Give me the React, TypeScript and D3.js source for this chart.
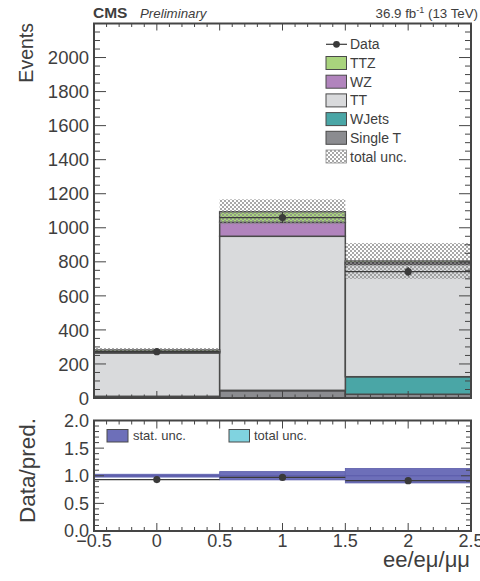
import React from "react";
import * as d3 from "d3";

// ---- data ----
const bins = [0, 1, 2];
const binLabels = ["ee", "eμ", "μμ"];
const singleT = [10, 43, 22];
const wjets = [0, 2, 103];
const tt = [255, 905, 660];
const wz = [7, 82, 10];
const ttz = [10, 62, 10];
const totalUnc = [12, 73, 105];
const dataVals = [272, 1060, 742];
const ratioVals = [0.93, 0.97, 0.91];
const ratioStat = [0.02, 0.075, 0.13];
const ratioTotal = [0.04, 0.075, 0.13];
const yTicksMain = [0, 200, 400, 600, 800, 1000, 1200, 1400, 1600, 1800, 2000];
const yTicksRatio = [0, 0.5, 1.0, 1.5, 2.0];
const xTickLabels = [-0.5, 0, 0.5, 1, 1.5, 2, 2.5];

const components = [
  { name: "Single T", values: singleT, color: "#8b8c90" },
  { name: "WJets", values: wjets, color: "#4aa6a6" },
  { name: "TT", values: tt, color: "#d9dadc" },
  { name: "WZ", values: wz, color: "#b184bd" },
  { name: "TTZ", values: ttz, color: "#a9d47d" },
];
const legendOrder = ["TTZ", "WZ", "TT", "WJets", "Single T"];

const W = 480;
const H = 581;
const X0 = 94, X1 = 471;
const MT = 23.5, MB = 398;
const RT = 420.5, RB = 531;
const FONT = "'Liberation Sans', Arial, sans-serif";
const TXT = "#3e3e3e";
const FRAME = "#454545";

export default function App() {
  const x = d3.scaleLinear().domain([-0.5, 2.5]).range([X0, X1]);
  const y = d3.scaleLinear().domain([0, 2200]).range([MB, MT]);
  const yr = d3.scaleLinear().domain([0, 2]).range([RB, RT]);

  // stacked values
  const stackRows = bins.map((b) => {
    const row: any = { bin: b };
    components.forEach((c) => (row[c.name] = c.values[b]));
    return row;
  });
  const stack = d3.stack().keys(components.map((c) => c.name))(stackRows as any);
  const totals = bins.map((b) => components.reduce((s, c) => s + c.values[b], 0));

  const xMinor = d3.range(-0.5, 2.5001, 0.1);
  const xMajor = d3.range(-0.5, 2.5001, 0.5);
  const yMinorMain = d3.range(0, 2200.1, 50);
  const yMinorRatio = d3.range(0, 2.0001, 0.1);

  const ticksX = (top: number, bottom: number, majL: number, minL: number, key: string) => (
    <g key={key} stroke={FRAME} strokeWidth={1}>
      {xMinor.map((v, i) => {
        const isMaj = xMajor.some((m) => Math.abs(m - v) < 1e-6);
        const L = isMaj ? majL : minL;
        return (
          <g key={i}>
            <line x1={x(v)} x2={x(v)} y1={bottom} y2={bottom - L} />
            <line x1={x(v)} x2={x(v)} y1={top} y2={top + L} />
          </g>
        );
      })}
    </g>
  );

  const ticksY = (scale: any, vals: number[], majStep: number, majL: number, minL: number) => (
    <g stroke={FRAME} strokeWidth={1}>
      {vals.map((v, i) => {
        const r = v / majStep;
        const isMaj = Math.abs(r - Math.round(r)) < 1e-6;
        const L = isMaj ? majL : minL;
        const yy = scale(v);
        return (
          <g key={i}>
            <line x1={X0} x2={X0 + L} y1={yy} y2={yy} />
            <line x1={X1} x2={X1 - L} y1={yy} y2={yy} />
          </g>
        );
      })}
    </g>
  );

  const bw = x(0.5) - x(-0.5);

  return (
    <svg
      width={W}
      height={H}
      style={{ position: "absolute", left: 0, top: 0, background: "#fff" }}
      fontFamily={FONT}
    >
      <defs>
        <pattern id="hatch" width="4" height="4" patternUnits="userSpaceOnUse">
          <rect x="0" y="0" width="2" height="2" fill="#8a8a8a" fillOpacity="0.75" />
          <rect x="2" y="2" width="2" height="2" fill="#8a8a8a" fillOpacity="0.75" />
        </pattern>
        <clipPath id="mainClip">
          <rect x={X0} y={MT} width={X1 - X0} height={MB - MT} />
        </clipPath>
      </defs>

      {/* header */}
      <text x={93} y={17.5} fontSize={15.5} fontWeight="bold" fill={TXT}>CMS</text>
      <text x={140} y={17.5} fontSize={13.3} fontStyle="italic" fill={TXT}>Preliminary</text>
      <text x={478} y={18} fontSize={13.3} fill={TXT} textAnchor="end">
        36.9 fb<tspan dy={-5} fontSize={9}>-1</tspan><tspan dy={5}> (13 TeV)</tspan>
      </text>

      {/* main stack */}
      <g clipPath="url(#mainClip)">
        {stack.map((layer: any, li: number) =>
          layer.map((d: any, bi: number) => {
            const h = y(d[0]) - y(d[1]);
            if (h <= 0.01) return null;
            return (
              <rect
                key={`${li}-${bi}`}
                x={x(bins[bi] - 0.5)}
                y={y(d[1])}
                width={bw}
                height={h}
                fill={components[li].color}
                stroke="#4a4a4a"
                strokeWidth={1.5}
              />
            );
          })
        )}
        {/* uncertainty hatch */}
        {bins.map((b) => (
          <rect
            key={`u${b}`}
            x={x(b - 0.5)}
            y={y(totals[b] + totalUnc[b])}
            width={bw}
            height={y(totals[b] - totalUnc[b]) - y(totals[b] + totalUnc[b])}
            fill="url(#hatch)"
          />
        ))}
        {/* data */}
        {bins.map((b) => (
          <g key={`d${b}`} stroke="#3a3a3a">
            <line x1={x(b - 0.5)} x2={x(b + 0.5)} y1={y(dataVals[b])} y2={y(dataVals[b])} strokeWidth={1.2} />
            <line
              x1={x(b)}
              x2={x(b)}
              y1={y(dataVals[b] - Math.sqrt(dataVals[b]))}
              y2={y(dataVals[b] + Math.sqrt(dataVals[b]))}
              strokeWidth={1.2}
            />
            <circle cx={x(b)} cy={y(dataVals[b])} r={3.6} fill="#3a3a3a" stroke="none" />
          </g>
        ))}
      </g>

      {/* main frame & ticks */}
      {ticksY(y, yMinorMain, 200, 12, 6)}
      {ticksX(MT, MB, 7, 3.5, "mx")}
      <rect x={X0} y={MT} width={X1 - X0} height={MB - MT} fill="none" stroke={FRAME} strokeWidth={2} />
      {yTicksMain.map((v) => (
        <text key={v} x={89} y={y(v)} dy="0.36em" fontSize={18.5} fill={TXT} textAnchor="end">
          {v}
        </text>
      ))}
      <text
        transform={`translate(33,23) rotate(-90)`}
        fontSize={19.5}
        fill={TXT}
        textAnchor="end"
      >
        Events
      </text>

      {/* legend */}
      {(() => {
        const lx = 326, ly = 44.3, step = 18.7;
        const items: any[] = [];
        items.push(
          <g key="ld">
            <line x1={lx} x2={lx + 21} y1={ly} y2={ly} stroke="#3a3a3a" strokeWidth={1.2} />
            <circle cx={lx + 10.5} cy={ly} r={3.4} fill="#3a3a3a" />
            <text x={350} y={ly} dy="0.36em" fontSize={14} fill={TXT}>Data</text>
          </g>
        );
        legendOrder.forEach((name, i) => {
          const c = components.find((cc) => cc.name === name)!;
          const yy = ly + step * (i + 1);
          items.push(
            <g key={name}>
              <rect x={lx} y={yy - 6.5} width={20.5} height={13} fill={c.color} stroke="#4a4a4a" strokeWidth={1} />
              <text x={350} y={yy} dy="0.36em" fontSize={14} fill={TXT}>{name}</text>
            </g>
          );
        });
        const yy = ly + step * 6;
        items.push(
          <g key="unc">
            <rect x={lx} y={yy - 6.5} width={20.5} height={13} fill="url(#hatch)" stroke="#8a8a8a" strokeWidth={0.8} />
            <text x={350} y={yy} dy="0.36em" fontSize={14} fill={TXT}>total unc.</text>
          </g>
        );
        return items;
      })()}

      {/* ratio panel */}
      {bins.map((b) => (
        <g key={`rb${b}`}>
          <rect
            x={x(b - 0.5)}
            y={yr(1 + ratioTotal[b])}
            width={bw}
            height={yr(1 - ratioTotal[b]) - yr(1 + ratioTotal[b])}
            fill="#c4cbe9"
          />
          <rect
            x={x(b - 0.5)}
            y={yr(1 + ratioStat[b])}
            width={bw}
            height={yr(1 - ratioStat[b]) - yr(1 + ratioStat[b])}
            fill="#6d6fb9"
            stroke="#5b5daa"
            strokeWidth={0.8}
          />
          <line x1={x(b - 0.5)} x2={x(b + 0.5)} y1={yr(1)} y2={yr(1)} stroke="#5557a6" strokeWidth={0.8} />
        </g>
      ))}
      {bins.map((b) => (
        <g key={`rd${b}`} stroke="#3a3a3a">
          <line x1={x(b - 0.5)} x2={x(b + 0.5)} y1={yr(ratioVals[b])} y2={yr(ratioVals[b])} strokeWidth={1.2} />
          <circle cx={x(b)} cy={yr(ratioVals[b])} r={3.6} fill="#3a3a3a" stroke="none" />
        </g>
      ))}
      {/* ratio legend */}
      <rect x={107} y={429.5} width={21} height={12.5} fill="#6d6fb9" stroke="#4a4a4a" strokeWidth={1} />
      <text x={133} y={435.8} dy="0.36em" fontSize={13} fill={TXT}>stat. unc.</text>
      <rect x={229} y={429.5} width={20.5} height={12.5} fill="#80d3e0" stroke="#4a4a4a" strokeWidth={1} />
      <text x={254} y={435.8} dy="0.36em" fontSize={13} fill={TXT}>total unc.</text>

      {ticksY(yr, yMinorRatio, 0.5, 10, 5)}
      {ticksX(RT, RB, 8, 4, "rx")}
      <rect x={X0} y={RT} width={X1 - X0} height={RB - RT} fill="none" stroke={FRAME} strokeWidth={2} />
      {yTicksRatio.map((v) => (
        <text key={v} x={89} y={yr(v)} dy="0.36em" fontSize={18} fill={TXT} textAnchor="end">
          {v.toFixed(1)}
        </text>
      ))}
      {xTickLabels.map((v) => (
        <text key={v} x={x(v)} y={547} fontSize={18} fill={TXT} textAnchor="middle">
          {v < 0 ? "\u2212" + Math.abs(v) : String(v)}
        </text>
      ))}
      <text
        transform={`translate(35,523) rotate(-90)`}
        fontSize={22.5}
        fill={TXT}
        textAnchor="start"
      >
        Data/pred.
      </text>
      <text x={470} y={567} fontSize={22} fill={TXT} textAnchor="end">
        {binLabels.join("/")}
      </text>
    </svg>
  );
}
